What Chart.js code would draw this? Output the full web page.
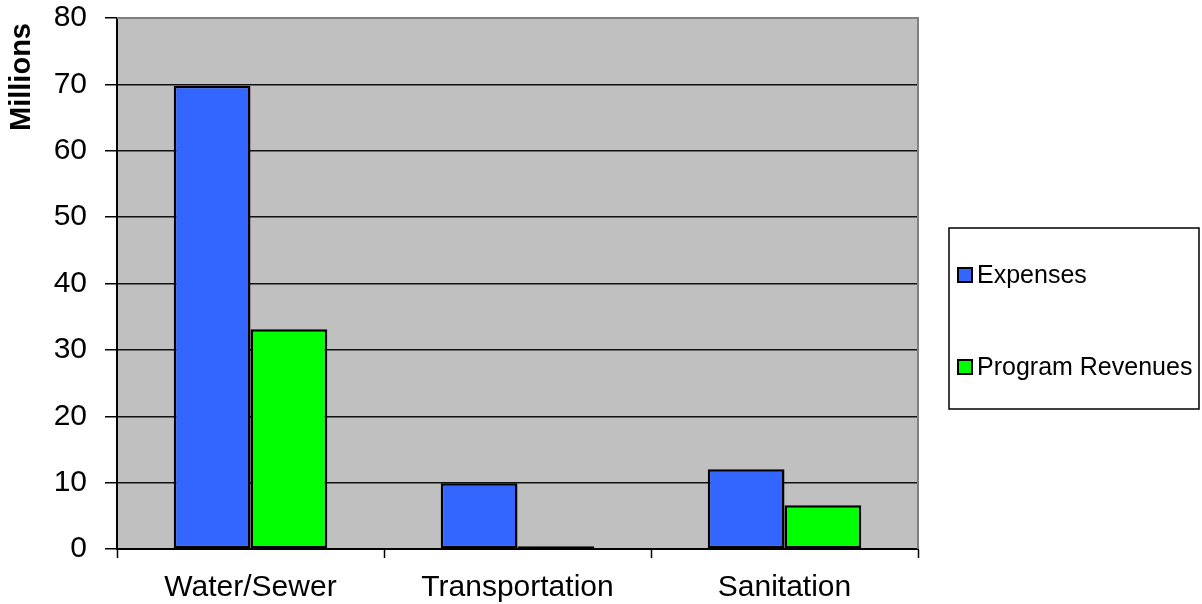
<!DOCTYPE html>
<html>
<head>
<meta charset="utf-8">
<script src="https://cdn.jsdelivr.net/npm/chart.js@4.4.0/dist/chart.umd.min.js"></script>
<style>
    html, body { margin: 0; padding: 0; background: #fff; }
    #wrap { width: 1202px; height: 604px; }
</style>
</head>
<body>
<div id="wrap"><canvas id="myChart" width="1202" height="604"></canvas></div>
<script>
// chart data
var categories = ["Water/Sewer", "Transportation", "Sanitation"];
var expenses = [69.8, 9.9, 12.0];
var programRevenues = [33.1, 0.4, 6.6];
var seriesNames = ["Expenses", "Program Revenues"];
var yTicks = [0, 10, 20, 30, 40, 50, 60, 70, 80];

var FONT = "'Liberation Sans', Arial, sans-serif";
var barColors = ['#3366FF', '#00FF00'];

// gray plot area, border, axis title, boxed legend
var excelLook = {
    id: 'excelLook',
    beforeDraw: function (chart) {
        var ctx = chart.ctx, a = chart.chartArea;
        ctx.save();
        ctx.fillStyle = '#C0C0C0';
        ctx.fillRect(a.left, a.top, a.right - a.left, a.bottom - a.top);
        ctx.restore();
    },
    afterDraw: function (chart) {
        var ctx = chart.ctx, a = chart.chartArea;
        ctx.save();
        // top and right border of the plot area
        ctx.strokeStyle = '#808080';
        ctx.lineWidth = 2;
        ctx.beginPath();
        ctx.moveTo(a.left, a.top);
        ctx.lineTo(a.right, a.top);
        ctx.lineTo(a.right, a.bottom);
        ctx.stroke();

        // y axis title
        ctx.fillStyle = '#000';
        ctx.font = 'bold 29px ' + FONT;
        ctx.textAlign = 'center';
        ctx.textBaseline = 'middle';
        ctx.translate(22, 77);
        ctx.rotate(-Math.PI / 2);
        ctx.fillText('Millions', 0, 0);
        ctx.restore();

        // legend box
        ctx.save();
        ctx.strokeStyle = '#000';
        ctx.lineWidth = 1.5;
        ctx.strokeRect(949, 228, 250, 181);
        ctx.font = '25px ' + FONT;
        ctx.textAlign = 'left';
        ctx.textBaseline = 'middle';
        var rows = [275, 367];
        chart.data.datasets.forEach(function (ds, i) {
            var y = rows[i];
            ctx.fillStyle = ds.backgroundColor;
            ctx.fillRect(958, y - 7, 14, 14);
            ctx.strokeStyle = '#000';
            ctx.lineWidth = 2;
            ctx.strokeRect(958, y - 7, 14, 14);
            ctx.fillStyle = '#000';
            ctx.fillText(ds.label, 977, y + 1);
        });
        ctx.restore();
    }
};

var chartData = {
    labels: categories,
    datasets: [{
        label: seriesNames[0],
        data: expenses,
        backgroundColor: barColors[0],
        borderColor: '#000',
        borderWidth: 2.5,
        borderSkipped: false
    }, {
        label: seriesNames[1],
        data: programRevenues,
        backgroundColor: barColors[1],
        borderColor: '#000',
        borderWidth: 2.5,
        borderSkipped: false
    }]
};

var chartConfig = {
    type: 'bar',
    data: chartData,
    plugins: [excelLook],
    options: {
        responsive: false,
        animation: false,
        layout: { padding: { left: 0, top: 18, right: 284, bottom: 0 } },
        categoryPercentage: 0.575,
        barPercentage: 1,
        plugins: {
            legend: { display: false },
            tooltip: { enabled: false }
        },
        scales: {
            x: {
                grid: {
                    offset: true,
                    drawOnChartArea: false,
                    drawTicks: true,
                    tickLength: 9,
                    tickColor: '#000',
                    tickWidth: 1.5
                },
                border: { color: '#000', width: 2 },
                ticks: {
                    color: '#000',
                    padding: 12,
                    font: { family: FONT, size: 30 }
                },
                afterFit: function (scale) {
                    scale.height = 55;
                    scale.paddingLeft = 0;
                    scale.paddingRight = 0;
                }
            },
            y: {
                min: 0,
                max: 80,
                afterBuildTicks: function (scale) {
                    scale.ticks = yTicks.map(function (v) { return { value: v }; });
                },
                grid: {
                    color: function (c) { return c.tick && c.tick.value === 80 ? 'rgba(0,0,0,0)' : '#111'; },
                    lineWidth: 1.5,
                    tickLength: 12,
                    tickColor: '#000',
                    tickWidth: 1.5
                },
                border: { color: '#000', width: 2 },
                ticks: {
                    color: '#000',
                    padding: 18,
                    font: { family: FONT, size: 30 }
                },
                afterFit: function (scale) {
                    scale.width = 117;
                    scale.paddingTop = 0;
                    scale.paddingBottom = 0;
                }
            }
        }
    }
};

var myChart = new Chart(document.getElementById('myChart'), chartConfig);
</script>
</body>
</html>
